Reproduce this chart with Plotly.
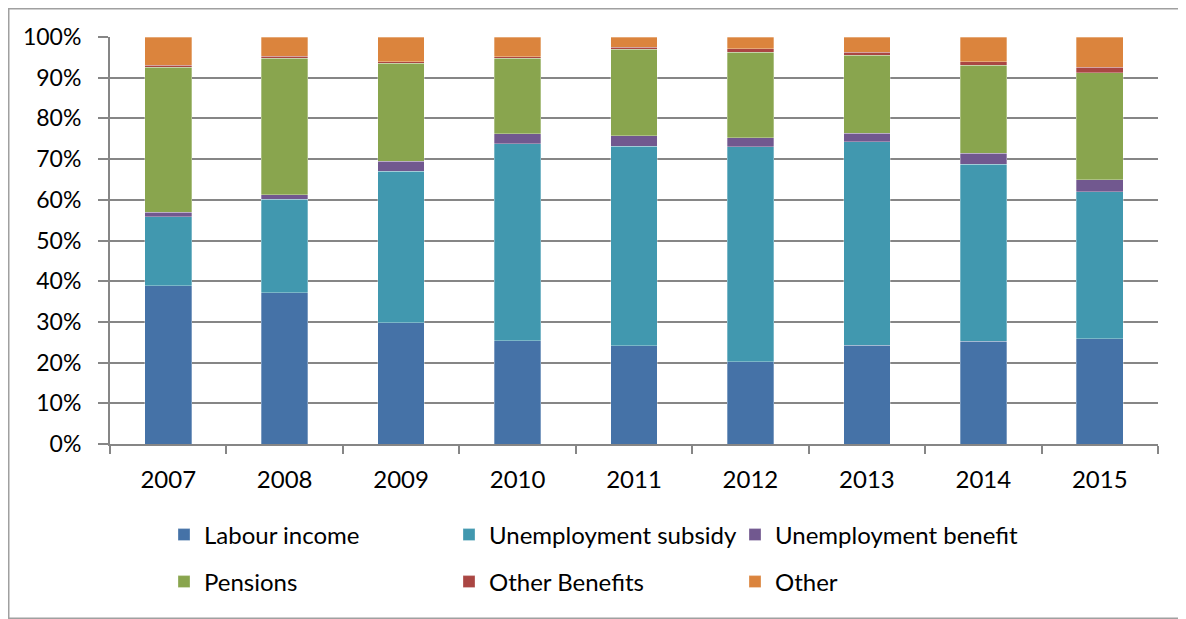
import plotly.graph_objects as go

years = ["2007", "2008", "2009", "2010", "2011", "2012", "2013", "2014", "2015"]
labour_income = [38.9, 37.2, 29.8, 25.4, 24.1, 20.2, 24.3, 25.2, 25.9]
unemployment_subsidy = [16.9, 22.9, 37.2, 48.4, 49.0, 52.8, 50.0, 43.5, 36.1]
unemployment_benefit = [1.2, 1.1, 2.5, 2.4, 2.6, 2.2, 2.1, 2.8, 2.9]
pensions = [35.6, 33.6, 24.0, 18.6, 21.3, 21.0, 19.1, 21.5, 26.3]
other_benefits = [0.4, 0.5, 0.4, 0.4, 0.5, 0.9, 0.8, 0.9, 1.4]
other = [7.0, 4.7, 6.1, 4.8, 2.5, 2.9, 3.7, 6.1, 7.4]

series_names = ["Labour income", "Unemployment subsidy", "Unemployment benefit",
                "Pensions", "Other Benefits", "Other"]
series_values = [labour_income, unemployment_subsidy, unemployment_benefit,
                 pensions, other_benefits, other]
series_colors = ["#4572A7", "#4198AF", "#71588F", "#89A54E", "#AA4643", "#DB843D"]

FONT = "Lato"
fig = go.Figure()

# page is offset by 8px body margin; figure spans page 8..1186, 8..619
W, H = 1178, 611
ml, mt = 102, 29
pw, ph = 1048, 407
mr = W - ml - pw
mb = H - mt - ph
bottom = mt + ph


def px_x(x):
    return (x - ml) / pw


def px_y(y):
    return (bottom - y) / ph


# legend slot positions (figure px): 3 columns x 2 rows
col_x = [156, 441, 727]
row_y = [527, 574]

legends = {}
for i, (name, vals, col) in enumerate(zip(series_names, series_values, series_colors)):
    key = "legend" if i == 0 else f"legend{i + 1}"
    fig.add_trace(go.Bar(
        x=years, y=vals, name=name, legend=key,
        marker=dict(color=col, line=dict(color="rgba(255,255,255,0.5)", width=0.6)),
    ))
    legends[key] = dict(
        orientation="h", xanchor="left", yanchor="middle",
        x=px_x(col_x[i % 3]), y=px_y(row_y[i // 3]),
        font=dict(family=FONT, size=24), itemclick=False,
        bgcolor="rgba(0,0,0,0)",
    )

fig.update_layout(
    width=W, height=H,
    barmode="stack", bargap=0.6,
    margin=dict(l=ml, r=mr, t=mt, b=mb, autoexpand=False),
    plot_bgcolor="white", paper_bgcolor="white",
    font=dict(family=FONT, size=23, color="#000000"),
    showlegend=True,
    xaxis=dict(
        type="category", tickson="boundaries", ticks="outside", ticklen=8,
        tickcolor="#868686", tickwidth=2, showline=True, linecolor="#868686", linewidth=2,
        showgrid=False, ticklabelstandoff=13, tickfont=dict(size=24),
    ),
    yaxis=dict(
        range=[0, 100], dtick=10, ticksuffix="%", ticks="outside", ticklen=10,
        tickcolor="#868686", tickwidth=2, showline=True, linecolor="#868686", linewidth=2,
        gridcolor="#868686", gridwidth=2, zeroline=False, ticklabelstandoff=12,
    ),
    shapes=[dict(
        type="rect", xref="paper", yref="paper",
        x0=px_x(0.75), x1=px_x(W - 0.75),
        y0=px_y(H - 0.75), y1=px_y(0.75),
        line=dict(color="#A0A0A0", width=1.5), layer="below",
    )],
)
fig.update_layout(**legends)

fig.write_html("out.html")
